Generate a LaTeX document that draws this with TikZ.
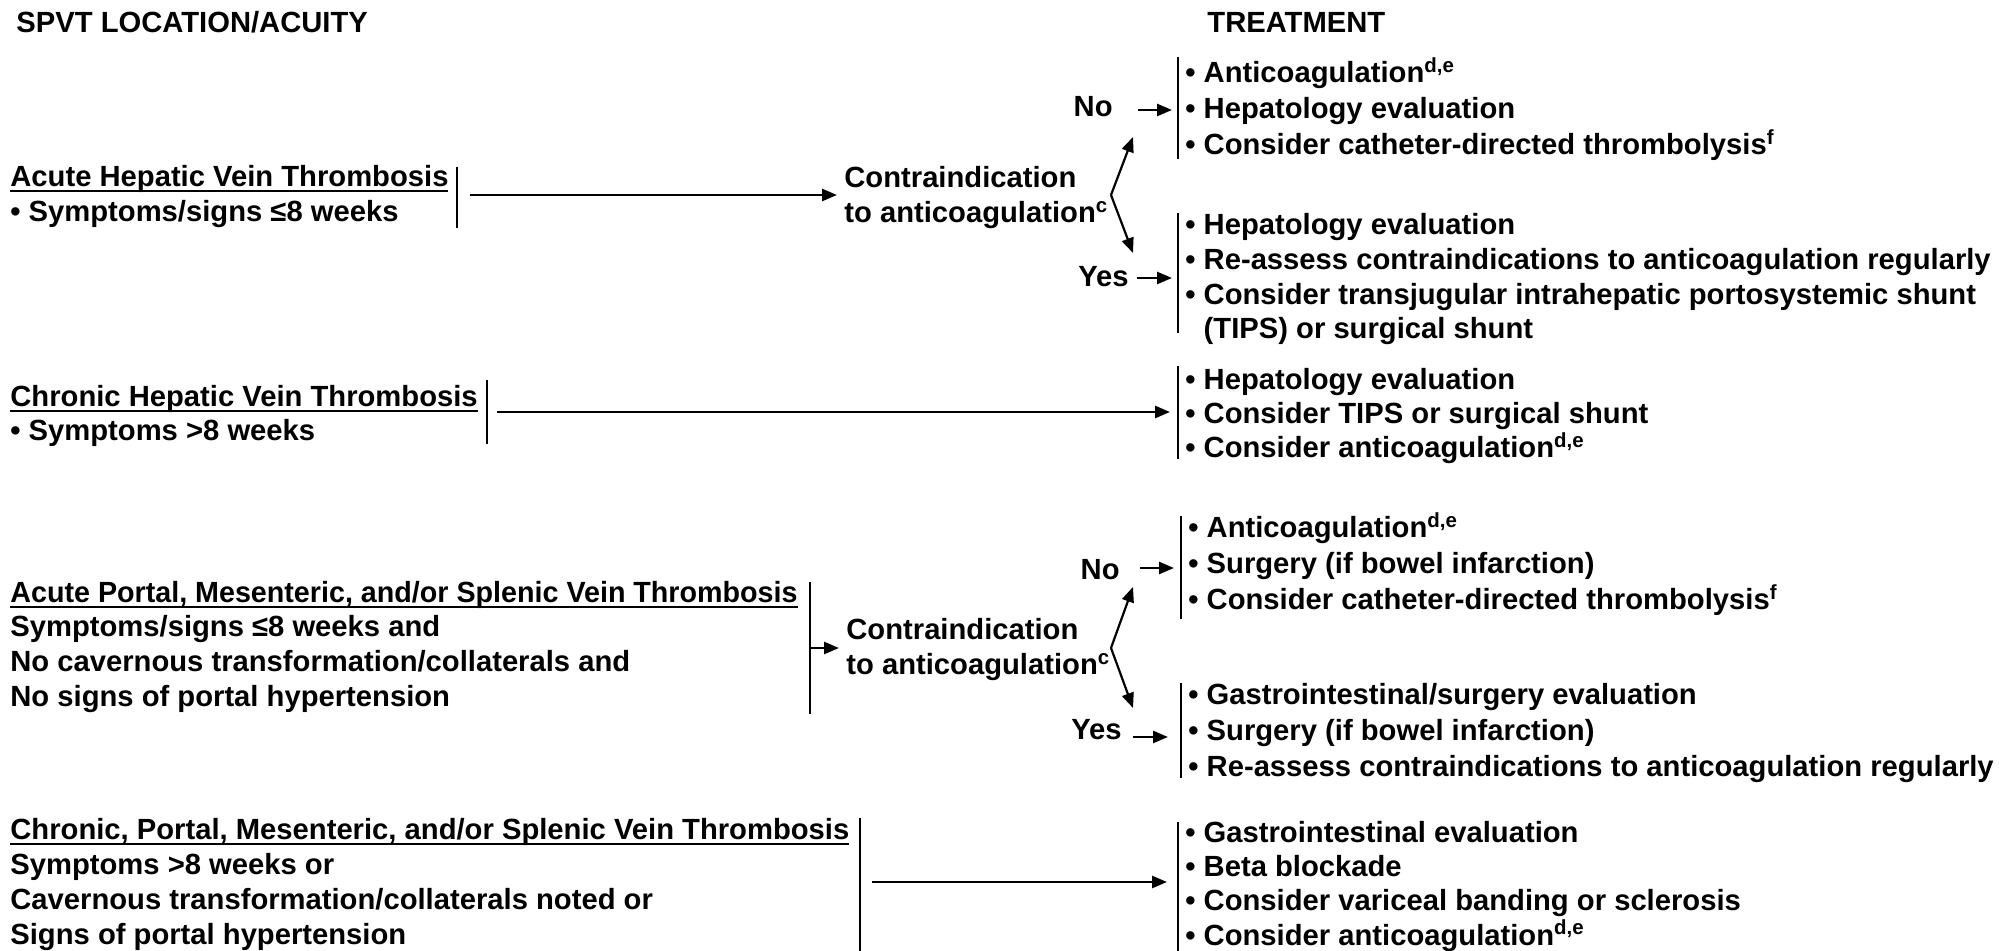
\documentclass[tikz,border=0pt]{standalone}
\usepackage{fontspec}
\setmainfont{Liberation Sans}
\usetikzlibrary{arrows.meta}
\newcommand\ulbox[1]{\setbox0=\hbox{#1}\rlap{\rule[-2.3pt]{\wd0}{1pt}}\box0}
\tikzset{
  txt/.style={inner sep=0pt, anchor=base west, font=\bfseries\fontsize{14.6}{17.5}\selectfont},
  txtr/.style={txt, anchor=base east},
  barline/.style={line width=1.2pt},
  arr/.style={line width=1.3pt, -{Triangle[length=7.5pt,width=6pt]}},
  forkarr/.style={line width=1.1pt, -{Triangle[length=7.5pt,width=6pt]}}
}
\begin{document}
\begin{tikzpicture}[x=0.5pt,y=-0.5pt]
\useasboundingbox (0,0) rectangle (1999,951);
% headings
\node[txt] (hl) at (16,33) {SPVT LOCATION/ACUITY};
\node[txt] (hr) at (1207,33) {TREATMENT};

% ---------- Row 1 ----------
\node[txt] (h1) at (10,187) {\ulbox{Acute Hepatic Vein Thrombosis}};
\node[txt] (h1b) at (10,222) {• Symptoms/signs ≤8 weeks};
\coordinate (b1t) at (457,167); \coordinate (b1b) at (457,228);
\draw[barline] (b1t) -- (b1b);
\coordinate (a1s) at (470,195); \coordinate (a1e) at (837,195);
\draw[arr] (a1s) -- (a1e);
\node[txt] (c1a) at (844,188) {Contraindication};
\node[txt] (c1b) at (844,223) {to anticoagulation\textsuperscript{c}};
\coordinate (f1) at (1111,195);
\coordinate (f1n) at (1133,137); \coordinate (f1y) at (1133,253);
\draw[forkarr] (f1) -- (f1n);
\draw[forkarr] (f1) -- (f1y);
\node[txtr] (no1) at (1113,117) {No};
\coordinate (n1s) at (1138,110); \coordinate (n1e) at (1172,110);
\draw[arr] (n1s) -- (n1e);
\draw[barline] (1178,57) -- (1178,159);
\node[txt] (t1a) at (1185,83) {• Anticoagulation\textsuperscript{d,e}};
\node[txt] (t1b) at (1185,119) {• Hepatology evaluation};
\node[txt] (t1c) at (1185,155) {• Consider catheter-directed thrombolysis\textsuperscript{f}};
\node[txtr] (yes1) at (1129,287) {Yes};
\coordinate (y1s) at (1137,278); \coordinate (y1e) at (1172,278);
\draw[arr] (y1s) -- (y1e);
\draw[barline] (1178,213) -- (1178,333);
\node[txt] (t1d) at (1185,235) {• Hepatology evaluation};
\node[txt] (t1e) at (1185,270) {• Re-assess contraindications to anticoagulation regularly};
\node[txt] (t1f) at (1185,305) {• Consider transjugular intrahepatic portosystemic shunt};
\node[txt] (t1g) at (1185,339) {\phantom{• }(TIPS) or surgical shunt};

% ---------- Row 2 ----------
\node[txt] (h2) at (10,407) {\ulbox{Chronic Hepatic Vein Thrombosis}};
\node[txt] (h2b) at (10,441) {• Symptoms >8 weeks};
\draw[barline] (487,380) -- (487,444);
\coordinate (a2s) at (497,412); \coordinate (a2e) at (1170,412);
\draw[arr] (a2s) -- (a2e);
\draw[barline] (1178,366) -- (1178,459);
\node[txt] (t2a) at (1185,390) {• Hepatology evaluation};
\node[txt] (t2b) at (1185,424) {• Consider TIPS or surgical shunt};
\node[txt] (t2c) at (1185,458) {• Consider anticoagulation\textsuperscript{d,e}};

% ---------- Row 3 ----------
\node[txt] (h3) at (10,603) {\scalebox{0.982}[1]{\ulbox{Acute Portal, Mesenteric, and/or Splenic Vein Thrombosis}}};
\node[txt] (h3b) at (10,637) {Symptoms/signs ≤8 weeks and};
\node[txt] (h3c) at (10,672) {No cavernous transformation/collaterals and};
\node[txt] (h3d) at (10,707) {No signs of portal hypertension};
\draw[barline] (810,582) -- (810,714);
\coordinate (a3s) at (810,648); \coordinate (a3e) at (839,648);
\draw[arr] (a3s) -- (a3e);
\node[txt] (c3a) at (846,640) {Contraindication};
\node[txt] (c3b) at (846,675) {to anticoagulation\textsuperscript{c}};
\coordinate (f3) at (1111,648);
\coordinate (f3n) at (1133,587); \coordinate (f3y) at (1133,708);
\draw[forkarr] (f3) -- (f3n);
\draw[forkarr] (f3) -- (f3y);
\node[txtr] (no3) at (1120,580) {No};
\coordinate (n3s) at (1140,568); \coordinate (n3e) at (1174,568);
\draw[arr] (n3s) -- (n3e);
\draw[barline] (1181,516) -- (1181,619);
\node[txt] (t3a) at (1188,538) {• Anticoagulation\textsuperscript{d,e}};
\node[txt] (t3b) at (1188,574) {• Surgery (if bowel infarction)};
\node[txt] (t3c) at (1188,610) {• Consider catheter-directed thrombolysis\textsuperscript{f}};
\node[txtr] (yes3) at (1122,740) {Yes};
\coordinate (y3s) at (1133,737); \coordinate (y3e) at (1168,737);
\draw[arr] (y3s) -- (y3e);
\draw[barline] (1181,683) -- (1181,778);
\node[txt] (t3d) at (1188,705) {• Gastrointestinal/surgery evaluation};
\node[txt] (t3e) at (1188,741) {• Surgery (if bowel infarction)};
\node[txt] (t3f) at (1188,777) {• Re-assess contraindications to anticoagulation regularly};

% ---------- Row 4 ----------
\node[txt] (h4) at (10,840) {\ulbox{Chronic, Portal, Mesenteric, and/or Splenic Vein Thrombosis}};
\node[txt] (h4b) at (10,875) {Symptoms >8 weeks or};
\node[txt] (h4c) at (10,910) {Cavernous transformation/collaterals noted or};
\node[txt] (h4d) at (10,944) {Signs of portal hypertension};
\draw[barline] (860,818) -- (860,951);
\coordinate (a4s) at (872,882); \coordinate (a4e) at (1167,882);
\draw[arr] (a4s) -- (a4e);
\draw[barline] (1178,822) -- (1178,951);
\node[txt] (t4a) at (1185,842) {• Gastrointestinal evaluation};
\node[txt] (t4b) at (1185,877) {• Beta blockade};
\node[txt] (t4c) at (1185,911) {• Consider variceal banding or sclerosis};
\node[txt] (t4d) at (1185,945) {• Consider anticoagulation\textsuperscript{d,e}};
\end{tikzpicture}
\end{document}
